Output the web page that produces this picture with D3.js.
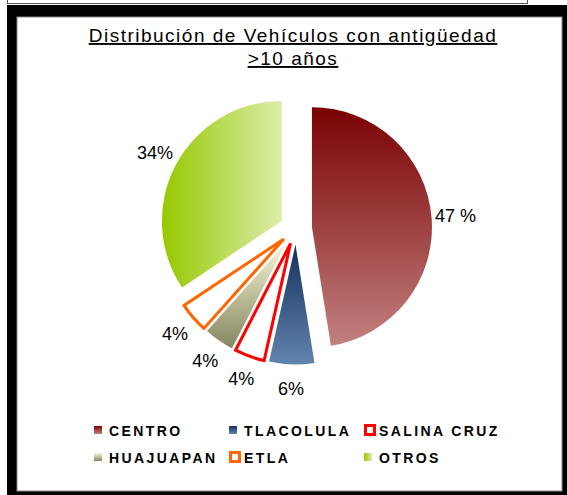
<!DOCTYPE html>
<html>
<head>
<meta charset="utf-8">
<script src="https://cdn.jsdelivr.net/npm/d3@7"></script>
<style>
  body { margin: 0; background: #fff; }
  svg text { font-family: Arial, "Liberation Sans", sans-serif; fill: #000; }
</style>
</head>
<body>
<div id="chart"></div>
<script>
// data
const categories = ["CENTRO", "TLACOLULA", "SALINA CRUZ", "HUAJUAPAN", "ETLA", "OTROS"];
const values = [47, 6, 4, 4, 4, 34];
const valueLabels = ["47 %", "6%", "4%", "4%", "4%", "34%"];
const titleLines = ["Distribución de Vehículos con antigüedad", ">10 años"];

const width = 567;
const height = 495;

// look of each slice: gradient stops or outlined white
const sliceStyle = [
    {grad: ["#7a0202", "#c28080"], dir: "v"},
    {grad: ["#16305c", "#6184ad"], dir: "v"},
    {stroke: "#ff0000"},
    {grad: ["#f9f7d6", "#85855f"], dir: "v"},
    {stroke: "#ff6600"},
    {grad: ["#96c800", "#dcedab"], dir: "h"}
];

const svg = d3.select("#chart")
    .append("svg")
    .attr("width", width)
    .attr("height", height);

// frame (black border round the chart, pasted box strip above)
svg.append("rect")
    .attr("x", 7.5).attr("y", -2)
    .attr("width", 520).attr("height", 5.5)
    .attr("fill", "#fff").attr("stroke", "#555");
svg.append("rect")
    .attr("x", 7).attr("y", 5)
    .attr("width", width - 7).attr("height", height - 5)
    .attr("fill", "#000");
svg.append("rect")
    .attr("x", 17).attr("y", 17)
    .attr("width", 545).attr("height", 474)
    .attr("fill", "#fff").attr("stroke", "#888").attr("stroke-width", 1);

const defs = svg.append("defs");
sliceStyle.forEach((s, i) => {
    if (!s.grad) return;
    const g = defs.append("linearGradient")
        .attr("id", "grad" + i)
        .attr("x1", 0).attr("y1", 0)
        .attr("x2", s.dir === "h" ? 1 : 0)
        .attr("y2", s.dir === "h" ? 0 : 1);
    g.append("stop").attr("offset", "0%").attr("stop-color", s.grad[0]);
    g.append("stop").attr("offset", "100%").attr("stop-color", s.grad[1]);
});

function fillOf(i) {
    return sliceStyle[i].grad ? "url(#grad" + i + ")" : "#fff";
}

// title
svg.selectAll(".title")
    .data(titleLines)
    .enter()
    .append("text")
    .attr("class", "title")
    .attr("x", 293)
    .attr("y", (d, i) => 42 + i * 23)
    .attr("text-anchor", "middle")
    .attr("font-size", "19px")
    .attr("letter-spacing", "1.5px")
    .attr("text-decoration", "underline")
    .text(d => d);

// pie
const cx = 296, cy = 228.5;
const radius = 120;
const explode = 16;
const labelR = 160;

const pie = d3.pie().sort(null).value(d => d);
const arcs = pie(values);
const arc = d3.arc().innerRadius(0).outerRadius(radius);

const g = svg.append("g").attr("transform", `translate(${cx},${cy})`);

g.selectAll(".slice")
    .data(arcs)
    .enter()
    .append("path")
    .attr("class", "slice")
    .attr("d", arc)
    .attr("transform", d => {
        const a = (d.startAngle + d.endAngle) / 2;
        return `translate(${explode * Math.sin(a)},${-explode * Math.cos(a)})`;
    })
    .attr("fill", (d, i) => fillOf(i))
    .attr("stroke", (d, i) => sliceStyle[i].stroke || "none")
    .attr("stroke-width", 3)
    .attr("stroke-linejoin", "miter");

g.selectAll(".pct")
    .data(arcs)
    .enter()
    .append("text")
    .attr("class", "pct")
    .attr("x", d => labelR * Math.sin((d.startAngle + d.endAngle) / 2))
    .attr("y", d => -labelR * Math.cos((d.startAngle + d.endAngle) / 2))
    .attr("dy", "0.35em")
    .attr("text-anchor", "middle")
    .attr("font-size", "18px")
    .text((d, i) => valueLabels[i]);

// legend, 3 columns x 2 rows
const legend = svg.append("g").attr("transform", "translate(94, 430)");
const item = legend.selectAll(".item")
    .data(categories)
    .enter()
    .append("g")
    .attr("class", "item")
    .attr("transform", (d, i) => `translate(${(i % 3) * 135},${Math.floor(i / 3) * 27})`);

item.append("rect")
    .attr("x", (d, i) => sliceStyle[i].stroke ? 1.5 : 0)
    .attr("y", (d, i) => sliceStyle[i].stroke ? -4.5 : -4)
    .attr("width", (d, i) => sliceStyle[i].stroke ? 9 : 8)
    .attr("height", (d, i) => sliceStyle[i].stroke ? 9 : 8)
    .attr("fill", (d, i) => fillOf(i))
    .attr("stroke", (d, i) => sliceStyle[i].stroke || "none")
    .attr("stroke-width", 3);

item.append("text")
    .attr("x", 15)
    .attr("y", 6)
    .attr("font-size", "14px")
    .attr("font-weight", "bold")
    .attr("letter-spacing", "2.4px")
    .text(d => d);
</script>
</body>
</html>
